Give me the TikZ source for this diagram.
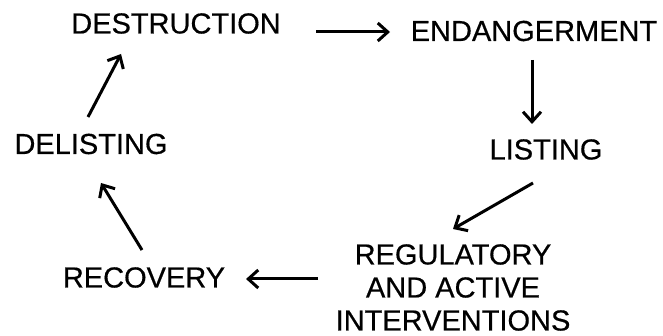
\documentclass[tikz,border=0pt]{standalone}
\usepackage{fontspec}
\setmainfont{Liberation Sans}[BoldFont=Liberation Sans, BoldFeatures={FakeBold=0.5}]
\usetikzlibrary{arrows.meta}
\begin{document}
\begin{tikzpicture}[x=1pt,y=-1pt,
  lbl/.style={inner sep=0pt,font=\fontsize{29}{33}\selectfont\bfseries,align=center},
  arr/.style={line width=3pt,-{Straight Barb[length=10pt,width=18pt,line width=3pt]}}]
\useasboundingbox[fill=white] (0,0) rectangle (663,336);
\node[lbl] (destr) at (176,23.5) {DESTRUCTION};
\node[lbl] (endang) at (534,31) {ENDANGERMENT};
\node[lbl] (listing) at (546,149.5) {LISTING};
\node[lbl] (reg) at (453,287.5) {REGULATORY\\AND ACTIVE\\INTERVENTIONS};
\node[lbl] (recov) at (144,277.5) {RECOVERY};
\node[lbl] (delist) at (91,144) {DELISTING};
\coordinate (a1s) at (316,32);   \coordinate (a1e) at (390,32);
\coordinate (a2s) at (532,60);   \coordinate (a2e) at (532,124);
\coordinate (a3s) at (533,183);  \coordinate (a3e) at (453,229);
\coordinate (a4s) at (318,279);  \coordinate (a4e) at (246,279);
\coordinate (a5s) at (142,250);  \coordinate (a5e) at (101,183);
\coordinate (a6s) at (88,117);   \coordinate (a6e) at (121,54);
\draw[arr] (a1s) -- (a1e);
\draw[arr] (a2s) -- (a2e);
\draw[arr] (a3s) -- (a3e);
\draw[arr] (a4s) -- (a4e);
\draw[arr] (a5s) -- (a5e);
\draw[arr] (a6s) -- (a6e);
\end{tikzpicture}
\end{document}
